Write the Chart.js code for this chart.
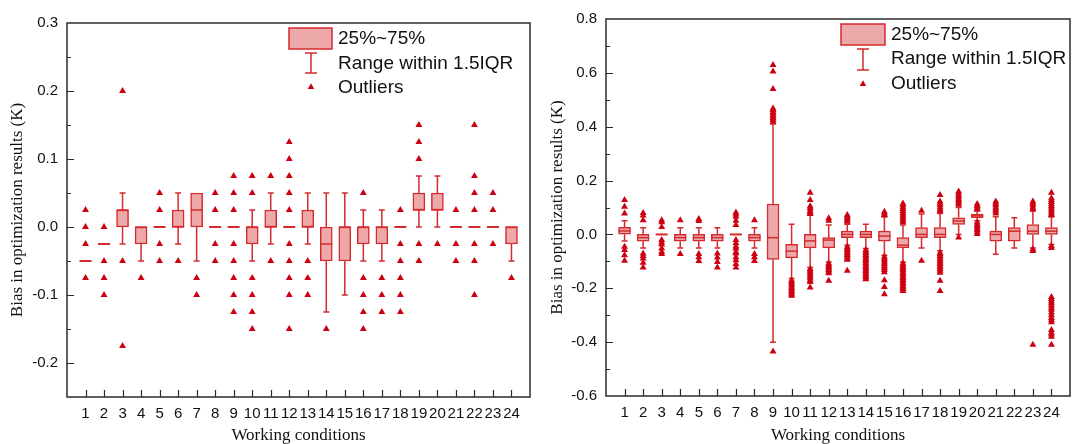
<!DOCTYPE html>
<html>
<head>
<meta charset="utf-8">
<title>Bias in optimization results</title>
<script src="https://cdn.jsdelivr.net/npm/chart.js@4.4.1/dist/chart.umd.min.js"></script>
<style>
  html, body { margin: 0; padding: 0; background: #fff; }
  #wrap { position: relative; width: 1078px; height: 444px; overflow: hidden; }
  canvas { position: absolute; top: 0; }
  #chartLeft  { left: 0; }
  #chartRight { left: 540px; }
</style>
</head>
<body>
<div id="wrap">
  <canvas id="chartLeft" width="540" height="444"></canvas>
  <canvas id="chartRight" width="538" height="444"></canvas>
</div>
<script>
'use strict';

// ── DATA ──
const conditions = [1, 2, 3, 4, 5, 6, 7, 8, 9, 10, 11, 12, 13, 14, 15, 16, 17, 18, 19, 20, 21, 22, 23, 24];
const legendLabels = ['25%~75%', 'Range within 1.5IQR', 'Outliers'];

// left panel
const leftQ1  = [-0.05, -0.025, 0, -0.025, 0, 0, 0, 0, 0, -0.025, 0, 0, 0, -0.05, -0.05, -0.025, -0.025, 0, 0.025, 0.025, 0, 0, 0, -0.025];
const leftQ3  = [-0.05, -0.025, 0.025, 0, 0, 0.025, 0.05, 0, 0, 0, 0.025, 0, 0.025, 0, 0, 0, 0, 0, 0.05, 0.05, 0, 0, 0, 0];
const leftMed = [-0.05, -0.025, 0.025, 0, 0, 0, 0.025, 0, 0, 0, 0, 0, 0, -0.025, 0, 0, 0, 0, 0.025, 0.025, 0, 0, 0, 0];
const leftLo  = [-0.05, -0.025, -0.025, -0.05, 0, -0.025, -0.05, 0, 0, -0.05, -0.025, 0, -0.025, -0.125, -0.1, -0.05, -0.05, 0, 0, 0, 0, 0, 0, -0.05];
const leftHi  = [-0.05, -0.025, 0.05, 0, 0, 0.05, 0.05, 0, 0, 0.025, 0.05, 0, 0.05, 0.05, 0.05, 0.025, 0.025, 0, 0.075, 0.075, 0, 0, 0, 0];
const leftOutliers = [
  [0.025, 0, -0.025, -0.075],
  [0, -0.05, -0.075, -0.1],
  [0.2, -0.05, -0.175],
  [-0.075],
  [0.05, 0.025, -0.025, -0.05],
  [-0.05],
  [-0.075, -0.1],
  [0.05, 0.025, -0.025, -0.05],
  [0.075, 0.05, 0.025, -0.025, -0.05, -0.075, -0.1, -0.125],
  [0.075, 0.05, -0.075, -0.1, -0.125, -0.15],
  [0.075, -0.05],
  [0.125, 0.1, 0.075, 0.05, 0.025, -0.025, -0.05, -0.075, -0.1, -0.15],
  [-0.05, -0.075, -0.1],
  [-0.15],
  [],
  [0.05, -0.075, -0.1, -0.125, -0.15],
  [-0.075, -0.1, -0.125],
  [0.025, -0.025, -0.05, -0.075, -0.1, -0.125],
  [0.15, 0.125, 0.1, -0.025, -0.05],
  [-0.025],
  [0.025, -0.025, -0.05],
  [0.15, 0.075, 0.05, 0.025, -0.025, -0.05, -0.1],
  [0.05, 0.025, -0.025],
  [-0.075]
];

// right panel
const rightQ1  = [0.001, -0.025, 0, -0.025, -0.025, -0.025, 0, -0.025, -0.093, -0.087, -0.05, -0.05, -0.012, -0.012, -0.025, -0.05, -0.012, -0.012, 0.037, 0.062, -0.025, -0.025, 0, 0];
const rightQ3  = [0.026, 0, 0, 0, 0, 0, 0, 0, 0.113, -0.037, 0, -0.012, 0.012, 0.012, 0.012, -0.012, 0.025, 0.025, 0.062, 0.076, 0.012, 0.025, 0.037, 0.025];
const rightMed = [0.013, -0.012, 0, -0.012, -0.012, -0.012, 0, -0.012, -0.012, -0.062, -0.024, -0.021, 0, 0, -0.006, -0.04, 0, 0, 0.05, 0.069, 0, 0.012, 0.012, 0.012];
const rightLo  = [-0.024, -0.05, 0, -0.05, -0.05, -0.05, 0, -0.05, -0.4, -0.164, -0.123, -0.102, -0.04, -0.052, -0.077, -0.102, -0.05, -0.061, 0, 0.051, -0.074, -0.05, -0.05, -0.037];
const rightHi  = [0.051, 0.025, 0, 0.025, 0.025, 0.025, 0, 0.025, 0.41, 0.038, 0.072, 0.035, 0.038, 0.038, 0.065, 0.035, 0.076, 0.078, 0.1, 0.088, 0.066, 0.062, 0.088, 0.066];
const rightOutliers = [
  [0.128, 0.103, 0.078, -0.046, -0.058, -0.077, -0.098],
  [0.08, 0.07, 0.053, -0.071, -0.08, -0.089, -0.105, -0.123],
  [0.053, 0.045, 0.028, -0.021, -0.03, -0.037, -0.052, -0.065, -0.073],
  [0.053, -0.073],
  [0.057, 0.05, -0.073, -0.085, -0.099],
  [-0.071, -0.086, -0.102, -0.123],
  [0.081, 0.074, 0.066, 0.051, 0.035, -0.021, -0.033, -0.045, -0.052, -0.065, -0.071, -0.085, -0.096, -0.11, -0.123],
  [0.053, -0.073, -0.085, -0.099],
  [0.629, 0.605, 0.54, 0.468, 0.462, 0.455, 0.449, 0.443, 0.437, 0.431, 0.425, 0.418, -0.435],
  [-0.17, -0.177, -0.184, -0.19, -0.197, -0.203, -0.21, -0.216, -0.222, -0.228],
  [0.155, 0.128, 0.105, 0.098, 0.09, 0.083, 0.076, -0.128, -0.135, -0.142, -0.149, -0.156, -0.163, -0.17, -0.177, -0.197],
  [0.06, 0.051, -0.108, -0.114, -0.12, -0.126, -0.132, -0.138, -0.144, -0.172],
  [0.072, 0.066, 0.06, 0.054, 0.047, -0.046, -0.052, -0.058, -0.064, -0.07, -0.076, -0.082, -0.088, -0.094, -0.135],
  [-0.058, -0.064, -0.07, -0.076, -0.082, -0.088, -0.094, -0.1, -0.106, -0.112, -0.118, -0.124, -0.13, -0.136, -0.142, -0.148, -0.154, -0.16, -0.166],
  [0.084, 0.078, 0.072, -0.083, -0.09, -0.097, -0.104, -0.111, -0.118, -0.125, -0.132, -0.14, -0.17, -0.195, -0.222],
  [0.115, 0.108, 0.101, 0.094, 0.087, 0.08, 0.073, 0.066, 0.059, 0.052, 0.045, -0.108, -0.114, -0.12, -0.126, -0.132, -0.138, -0.144, -0.15, -0.156, -0.162, -0.168, -0.174, -0.18, -0.186, -0.192, -0.198, -0.204, -0.21],
  [0.088, -0.098],
  [0.146, 0.122, 0.115, 0.108, 0.1, 0.093, 0.086, -0.068, -0.074, -0.08, -0.086, -0.092, -0.098, -0.104, -0.11, -0.116, -0.122, -0.128, -0.135, -0.142, -0.172, -0.21],
  [0.159, 0.152, 0.145, 0.138, 0.131, 0.124, 0.117, 0.11, -0.011],
  [0.113, 0.106, 0.099, 0.093, 0.044, 0.037, 0.03, 0.023, 0.016, 0.009, 0.002],
  [0.122, 0.115, 0.108, 0.1, 0.093, 0.085, 0.078],
  [],
  [0.122, 0.115, 0.108, 0.1, 0.093, -0.055, -0.062, -0.41],
  [0.155, 0.134, 0.127, 0.12, 0.113, 0.106, 0.099, 0.092, 0.085, 0.078, 0.071, -0.043, -0.05, -0.232, -0.24, -0.248, -0.256, -0.264, -0.272, -0.28, -0.29, -0.3, -0.31, -0.318, -0.326, -0.355, -0.365, -0.372, -0.38, -0.41]
];

// ── STYLE ──
const BOX_FILL = '#EDA8A9';
const BOX_LINE = '#D42A2E';
const DOT_RED  = '#CC0012';
const AXIS     = '#2b2b2b';
const TEXT     = '#111111';
const SANS     = '"Liberation Sans", Arial, sans-serif';
const SERIF    = '"Liberation Serif", "Times New Roman", serif';

// ── PANELS ──
const panels = {
  left: {
    q1: leftQ1, q3: leftQ3, med: leftMed, lo: leftLo, hi: leftHi, out: leftOutliers,
    yMin: -0.25, yMax: 0.3, yStep: 0.05, labelStep: 0.1,
    padding: { left: 0, right: 10, top: 23, bottom: 0 },
    yAxisWidth: 67, xAxisHeight: 47,
    legend: { sx: 289, sy: 28, sw: 43, sh: 21, wx: 311, wy1: 53, wy2: 73, ty: 87, textX: 338, rows: [39, 63.5, 88] }
  },
  right: {
    q1: rightQ1, q3: rightQ3, med: rightMed, lo: rightLo, hi: rightHi, out: rightOutliers,
    yMin: -0.6, yMax: 0.8, yStep: 0.1, labelStep: 0.2,
    padding: { left: 0, right: 4, top: 19, bottom: 0 },
    yAxisWidth: 66, xAxisHeight: 48,
    legend: { sx: 301, sy: 24, sw: 44, sh: 21, wx: 323, wy1: 49, wy2: 70, ty: 84, textX: 351, rows: [34.5, 59, 84] }
  }
};

function isMajor(v, step) {
  const r = v / step;
  return Math.abs(r - Math.round(r)) < 1e-6;
}

// whisker line from box edge to the 1.5IQR limit, with a cap
function drawWhisker(ctx, cx, from, to, cap) {
  if (Math.abs(to - from) < 0.5) return;
  ctx.beginPath();
  ctx.moveTo(cx, from);
  ctx.lineTo(cx, to);
  ctx.moveTo(cx - cap / 2, to);
  ctx.lineTo(cx + cap / 2, to);
  ctx.stroke();
}

function drawTriangle(ctx, x, y, r) {
  ctx.beginPath();
  ctx.moveTo(x, y - r);
  ctx.lineTo(x + r * 0.866, y + r / 2);
  ctx.lineTo(x - r * 0.866, y + r / 2);
  ctx.closePath();
  ctx.fill();
}

// ── BOX PLOT EXTRAS: whiskers, medians, frame, inward ticks, legend ──
function boxPlotExtras(p) {
  return {
    id: 'boxPlotExtras',
    beforeDatasetsDraw(chart) {
      const { ctx, scales: { x, y } } = chart;
      ctx.save();
      ctx.strokeStyle = BOX_LINE;
      ctx.lineWidth = 1.5;
      conditions.forEach((c, i) => {
        const cx = x.getPixelForValue(c);
        drawWhisker(ctx, cx, y.getPixelForValue(p.q3[i]), y.getPixelForValue(p.hi[i]), 6);
        drawWhisker(ctx, cx, y.getPixelForValue(p.q1[i]), y.getPixelForValue(p.lo[i]), 6);
      });
      ctx.restore();
    },
    afterDatasetDraw(chart, args) {
      if (args.meta.type !== 'bar') return;
      const { ctx, scales: { x, y } } = chart;
      ctx.save();
      ctx.strokeStyle = BOX_LINE;
      conditions.forEach((c, i) => {
        const cx = x.getPixelForValue(c);
        const my = y.getPixelForValue(p.med[i]);
        ctx.lineWidth = p.q1[i] === p.q3[i] ? 2 : 1.5;
        ctx.beginPath();
        ctx.moveTo(cx - 6, my);
        ctx.lineTo(cx + 6, my);
        ctx.stroke();
      });
      ctx.restore();
    },
    afterDraw(chart) {
      const { ctx, chartArea: a, scales: { x, y } } = chart;
      ctx.save();

      // frame
      ctx.strokeStyle = AXIS;
      ctx.lineWidth = 1.5;
      ctx.strokeRect(a.left, a.top, a.right - a.left, a.bottom - a.top);

      // inward ticks
      ctx.lineWidth = 1.2;
      ctx.beginPath();
      y.ticks.forEach(t => {
        if (t.value <= p.yMin + 1e-9 || t.value >= p.yMax - 1e-9) return;
        const py = Math.round(y.getPixelForValue(t.value)) + 0.5;
        const len = isMajor(t.value, p.labelStep) ? 7 : 4;
        ctx.moveTo(a.left, py);
        ctx.lineTo(a.left + len, py);
      });
      conditions.forEach(c => {
        const px = Math.round(x.getPixelForValue(c)) + 0.5;
        ctx.moveTo(px, a.bottom);
        ctx.lineTo(px, a.bottom - 7);
      });
      ctx.stroke();

      // legend
      const L = p.legend;
      ctx.fillStyle = BOX_FILL;
      ctx.fillRect(L.sx, L.sy, L.sw, L.sh);
      ctx.strokeStyle = BOX_LINE;
      ctx.lineWidth = 1.5;
      ctx.strokeRect(L.sx, L.sy, L.sw, L.sh);
      ctx.beginPath();
      ctx.moveTo(L.wx, L.wy1);
      ctx.lineTo(L.wx, L.wy2);
      ctx.moveTo(L.wx - 6, L.wy1);
      ctx.lineTo(L.wx + 6, L.wy1);
      ctx.moveTo(L.wx - 6, L.wy2);
      ctx.lineTo(L.wx + 6, L.wy2);
      ctx.stroke();
      ctx.fillStyle = DOT_RED;
      drawTriangle(ctx, L.wx, L.ty, 3.8);

      ctx.fillStyle = TEXT;
      ctx.font = '19px ' + SANS;
      ctx.textBaseline = 'middle';
      ctx.textAlign = 'left';
      legendLabels.forEach((lbl, i) => ctx.fillText(lbl, L.textX, L.rows[i]));
      ctx.restore();
    }
  };
}

// ── CHART BUILD ──
function buildChart(canvasId, p) {
  const boxes = conditions.map((c, i) => ({ x: c, y: [p.q1[i], p.q3[i]] }));
  const points = [];
  conditions.forEach((c, i) => p.out[i].forEach(v => points.push({ x: c, y: v })));

  return new Chart(document.getElementById(canvasId), {
    type: 'bar',
    data: {
      datasets: [
        {
          type: 'scatter',
          data: points,
          order: 0,
          pointStyle: 'triangle',
          radius: 4,
          hoverRadius: 4,
          backgroundColor: DOT_RED,
          borderWidth: 0,
        },
        {
          type: 'bar',
          data: boxes,
          order: 1,
          backgroundColor: BOX_FILL,
          borderColor: BOX_LINE,
          borderWidth: 1.5,
          borderSkipped: false,
          barThickness: 12,
        }
      ]
    },
    options: {
      responsive: false,
      animation: false,
      devicePixelRatio: 1,
      layout: { padding: p.padding },
      plugins: { legend: { display: false }, tooltip: { enabled: false } },
      scales: {
        x: {
          type: 'linear',
          min: 0,
          max: 25,
          offset: false,
          grid: { display: false, drawTicks: false },
          border: { display: false },
          ticks: {
            stepSize: 1,
            autoSkip: false,
            maxRotation: 0,
            minRotation: 0,
            padding: 8,
            color: TEXT,
            font: { family: SANS, size: 15 },
            callback: v => (v >= 1 && v <= 24) ? String(v) : '',
          },
          title: {
            display: true,
            text: 'Working conditions',
            color: TEXT,
            font: { family: SERIF, size: 17, lineHeight: 1 },
            padding: { top: 0, bottom: 0 },
          },
          afterFit: s => { s.height = p.xAxisHeight; },
        },
        y: {
          type: 'linear',
          min: p.yMin,
          max: p.yMax,
          grid: { display: false, drawTicks: false },
          border: { display: false },
          ticks: {
            stepSize: p.yStep,
            autoSkip: false,
            padding: 9,
            color: TEXT,
            font: { family: SANS, size: 15 },
            callback: v => isMajor(v, p.labelStep) ? (Math.round(v * 10) / 10).toFixed(1) : '',
          },
          title: {
            display: true,
            text: 'Bias in optimization results (K)',
            color: TEXT,
            font: { family: SERIF, size: 17, lineHeight: 1.2 },
            padding: { top: 7, bottom: 0 },
          },
          afterFit: s => { s.width = p.yAxisWidth; },
        }
      }
    },
    plugins: [boxPlotExtras(p)]
  });
}

buildChart('chartLeft', panels.left);
buildChart('chartRight', panels.right);
</script>
</body>
</html>
